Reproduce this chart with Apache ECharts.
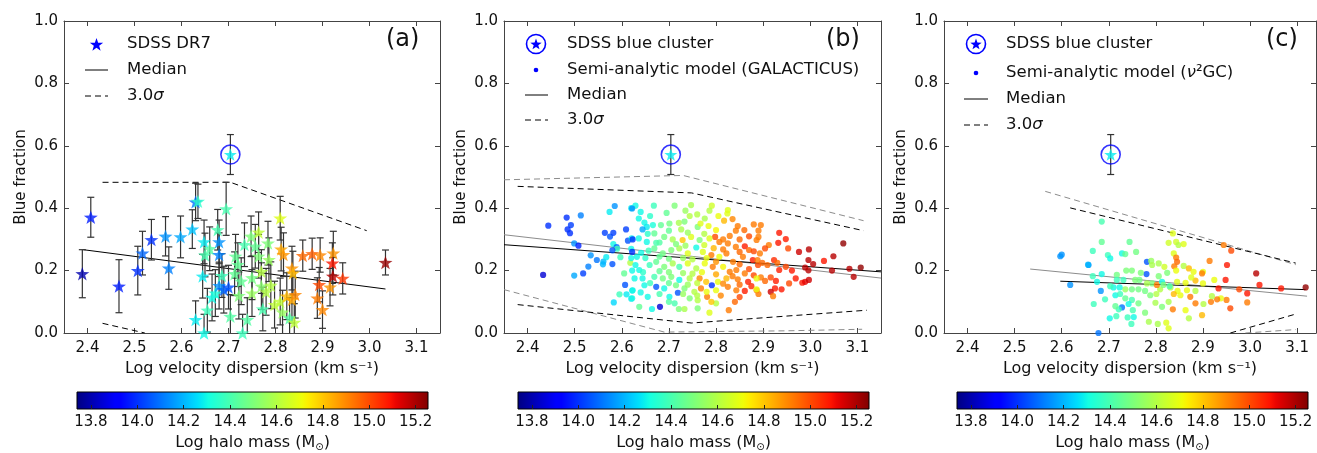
<!DOCTYPE html>
<html><head><meta charset="utf-8">
<script src="https://cdn.jsdelivr.net/npm/echarts@6/dist/echarts.min.js"></script>
<style>html,body{margin:0;padding:0;background:#fff}#c{width:1317px;height:453px}</style>
</head><body><div id="c"></div>
<script>
// ---------------- DATA ----------------
const xTicks = [2.4, 2.5, 2.6, 2.7, 2.8, 2.9, 3.0, 3.1];
const yTicks = [0.0, 0.2, 0.4, 0.6, 0.8, 1.0];
const massTicks = [13.8, 14.0, 14.2, 14.4, 14.6, 14.8, 15.0, 15.2];
const massRange = [13.74, 15.253];

// Panel (a): SDSS DR7 clusters
const sdssV = [2.389,2.407,2.467,2.507,2.517,2.536,2.566,2.573,2.598,2.623,
  2.630,2.635,2.630,2.645,2.648,2.648,2.650,2.655,2.660,2.665,
  2.672,2.677,2.680,2.680,2.680,2.686,2.690,2.695,2.700,2.704,
  2.715,2.713,2.720,2.722,2.727,2.730,2.734,2.740,2.748,2.750,
  2.750,2.757,2.764,2.764,2.770,2.770,2.773,2.780,2.784,2.786,
  2.790,2.798,2.810,2.812,2.817,2.810,2.815,2.824,2.830,2.835,
  2.837,2.835,2.840,2.842,2.858,2.878,2.895,2.893,2.889,2.900,
  2.916,2.923,2.921,2.922,2.943,3.034];
const sdssFrac = [0.190,0.371,0.150,0.200,0.256,0.299,0.310,0.208,0.308,0.333,
  0.420,0.422,0.043,0.182,0.292,0.000,0.250,0.073,0.270,0.114,
  0.128,0.331,0.292,0.251,0.152,0.184,0.139,0.398,0.147,0.053,
  0.246,0.190,0.219,0.120,0.166,0.000,0.283,0.043,0.310,0.177,
  0.128,0.278,0.323,0.246,0.150,0.197,0.077,0.132,0.288,0.235,
  0.153,0.091,0.368,0.269,0.251,0.101,0.067,0.118,0.048,0.208,
  0.192,0.107,0.034,0.123,0.248,0.254,0.250,0.155,0.112,0.075,
  0.147,0.256,0.224,0.182,0.175,0.226];
const sdssErr = [0.077,0.064,0.085,0.078,0.070,0.065,0.063,0.068,0.067,0.062,
  0.060,0.055,0.060,0.070,0.070,0.060,0.070,0.070,0.070,0.075,
  0.075,0.065,0.070,0.070,0.075,0.070,0.075,0.085,0.070,0.070,
  0.070,0.070,0.070,0.075,0.075,0.060,0.070,0.070,0.065,0.070,
  0.075,0.070,0.065,0.070,0.075,0.070,0.070,0.075,0.070,0.070,
  0.075,0.075,0.070,0.070,0.070,0.075,0.070,0.075,0.065,0.070,
  0.070,0.075,0.060,0.075,0.050,0.050,0.055,0.055,0.065,0.060,
  0.060,0.070,0.065,0.060,0.050,0.040];
const sdssMass = [13.80,13.97,13.97,14.00,14.08,14.00,14.15,14.12,14.18,14.22,
  14.10,14.35,14.28,14.28,14.28,14.30,14.40,14.38,14.42,14.30,
  14.32,14.40,14.15,14.12,14.15,14.38,14.08,14.40,14.05,14.42,
  14.45,14.45,14.45,14.50,14.45,14.38,14.40,14.42,14.50,14.48,
  14.55,14.45,14.62,14.50,14.52,14.60,14.40,14.60,14.50,14.55,
  14.60,14.62,14.68,14.85,14.88,14.62,14.55,14.82,14.42,14.88,
  14.82,14.85,14.62,14.90,14.95,14.97,14.90,15.00,14.92,14.90,
  14.88,14.88,15.08,15.18,15.03,15.22];

// SDSS blue cluster [logV, fraction, error, mass]
const blueCluster = [2.704, 0.572, 0.064, 14.28];

// Panel (a) lines
const aMedian = [[2.391,0.267],[3.034,0.141]];
const aSigmaUpper = [[2.432,0.483],[2.704,0.483],[2.994,0.328]];
const aSigmaLower = [[2.432,0.031],[2.522,0.0]];

// Panel (b): GALACTICUS [logV, fraction, mass]
const galacticusPoints = [
 [2.444,0.344,14.0],[2.433,0.186,13.85],[2.483,0.370,14.0],[2.492,0.346,14.02],[2.485,0.332,14.0],[2.490,0.320,14.0],[2.513,0.377,14.12],[2.499,0.287,14.15],[2.508,0.280,13.98],[2.499,0.184,14.18],
 [2.518,0.191,14.02],[2.529,0.213,14.12],[2.534,0.249,14.15],[2.547,0.234,14.10],[2.561,0.229,14.20],[2.560,0.220,14.20],[2.564,0.321,14.02],[2.575,0.309,14.05],[2.582,0.321,14.02],[2.585,0.407,14.15],
 [2.574,0.388,14.28],[2.567,0.243,14.28],[2.580,0.221,14.05],[2.582,0.285,14.30],[2.589,0.275,14.08],[2.590,0.270,14.38],[2.597,0.243,14.38],[2.580,0.265,14.05],[2.609,0.332,14.02],[2.613,0.296,14.05],
 [2.621,0.303,14.28],[2.620,0.400,14.28],[2.618,0.225,14.60],[2.605,0.191,14.45],[2.622,0.200,14.30],[2.620,0.240,14.30],[2.607,0.154,14.05],[2.595,0.124,14.38],[2.610,0.124,14.28],[2.620,0.110,14.28],
 [2.583,0.098,14.25],[2.622,0.136,14.28],[2.620,0.270,14.30],
 [2.629,0.408,14.30],[2.622,0.399,14.15],[2.668,0.408,14.38],[2.712,0.408,14.50],[2.747,0.410,14.58],[2.791,0.408,14.65],[2.825,0.394,14.68],[2.824,0.383,14.68],[2.786,0.392,14.60],
 [2.776,0.367,14.58],[2.636,0.367,14.30],[2.648,0.354,14.30],[2.653,0.340,14.28],[2.644,0.332,14.18],[2.666,0.346,14.32],[2.683,0.346,14.45],[2.701,0.351,14.48],[2.721,0.353,14.58],[2.733,0.357,14.50],
 [2.744,0.375,14.60],[2.726,0.332,14.58],[2.761,0.340,14.50],[2.767,0.351,14.68],[2.784,0.343,14.70],[2.817,0.360,14.82],[2.846,0.343,14.92],[2.842,0.328,14.92],[2.880,0.348,14.92],[2.798,0.308,15.00],
 [2.829,0.311,14.92],[2.623,0.300,14.00],[2.636,0.303,14.30],[2.653,0.292,14.30],[2.669,0.319,14.45],[2.673,0.289,14.40],[2.690,0.308,14.48],[2.708,0.300,14.58],[2.729,0.298,14.80],[2.747,0.308,14.68],
 [2.765,0.298,14.50],[2.786,0.303,14.68],[2.807,0.292,14.92],[2.825,0.287,14.92],[2.842,0.276,14.92],[2.861,0.278,15.07],[2.870,0.266,14.95],[2.886,0.298,14.92],[2.622,0.260,14.00],[2.632,0.244,14.30],
 [2.641,0.257,14.30],[2.657,0.264,14.38],[2.669,0.271,14.45],[2.687,0.255,14.48],[2.705,0.266,14.50],[2.722,0.271,14.58],[2.740,0.255,14.68],[2.758,0.274,14.30],[2.772,0.260,14.68],[2.790,0.250,14.92],
 [2.807,0.244,14.70],[2.822,0.255,14.92],[2.836,0.228,14.92],[2.857,0.244,14.92],[2.878,0.234,15.07],[2.889,0.218,15.00],[2.629,0.218,14.30],[2.637,0.202,14.30],[2.659,0.218,14.38],[2.673,0.228,14.45],
 [2.690,0.212,14.50],[2.708,0.223,14.58],[2.722,0.212,14.40],[2.740,0.223,14.68],[2.758,0.207,14.60],[2.776,0.223,14.70],[2.793,0.212,14.92],[2.815,0.212,14.72],[2.829,0.196,14.92],[2.843,0.202,14.92],
 [2.861,0.191,14.92],[2.627,0.175,14.30],[2.644,0.175,14.30],[2.669,0.180,14.40],[2.687,0.175,14.48],[2.705,0.180,14.50],[2.722,0.170,14.30],[2.744,0.175,14.60],[2.765,0.175,14.90],[2.779,0.164,14.80],
 [2.804,0.164,14.70],[2.822,0.175,14.82],[2.846,0.172,14.92],[2.868,0.164,15.07],[2.623,0.137,14.30],[2.648,0.153,14.30],[2.673,0.148,14.05],[2.690,0.143,14.30],[2.715,0.153,14.48],[2.719,0.129,14.05],
 [2.733,0.143,14.50],[2.754,0.132,14.60],[2.768,0.143,14.92],[2.791,0.153,14.00],[2.800,0.137,14.70],[2.825,0.148,14.92],[2.843,0.137,14.92],[2.861,0.135,15.07],[2.886,0.137,14.92],[2.622,0.111,14.30],
 [2.655,0.116,14.30],[2.681,0.084,13.85],[2.701,0.116,14.30],[2.712,0.095,14.40],[2.744,0.111,14.50],[2.761,0.105,14.60],[2.781,0.116,14.92],[2.800,0.095,14.60],[2.637,0.084,14.45],[2.664,0.077,14.30],
 [2.721,0.077,14.50],[2.733,0.077,14.58],[2.761,0.079,14.50],[2.786,0.065,14.68],[2.827,0.073,14.92],
 [2.640,0.388,14.30],[2.660,0.375,14.35],[2.695,0.385,14.45],[2.735,0.392,14.55],[2.760,0.380,14.60],[2.805,0.375,14.70],[2.835,0.365,14.90],[2.860,0.330,14.95],[2.655,0.318,14.35],[2.700,0.328,14.45],
 [2.740,0.322,14.55],[2.775,0.318,14.60],[2.800,0.330,14.72],[2.815,0.300,14.92],[2.850,0.300,14.95],[2.870,0.310,15.00],[2.680,0.290,14.42],[2.715,0.285,14.50],[2.735,0.280,14.55],[2.775,0.282,14.65],
 [2.795,0.272,14.82],[2.815,0.268,14.92],[2.850,0.260,14.95],[2.880,0.262,15.00],[2.650,0.240,14.35],[2.680,0.245,14.45],[2.700,0.238,14.48],[2.730,0.240,14.55],[2.750,0.236,14.60],[2.780,0.240,14.70],
 [2.800,0.228,14.88],[2.850,0.220,14.95],[2.870,0.205,15.00],[2.645,0.195,14.35],[2.680,0.198,14.45],[2.700,0.195,14.50],[2.730,0.192,14.55],[2.750,0.190,14.60],[2.770,0.195,14.70],[2.800,0.188,14.85],
 [2.835,0.182,14.92],[2.880,0.185,15.00],[2.660,0.160,14.38],[2.700,0.160,14.45],[2.740,0.155,14.55],[2.760,0.160,14.62],[2.815,0.158,14.90],[2.850,0.155,14.95],[2.875,0.150,15.05],[2.640,0.130,14.30],
 [2.680,0.125,14.40],[2.730,0.125,14.55],[2.780,0.132,14.70],[2.810,0.120,14.90],[2.850,0.115,15.00],[2.700,0.100,14.42],[2.760,0.120,14.60],[2.790,0.100,14.80],[2.840,0.100,14.95],
 [2.895,0.346,14.92],[2.890,0.328,14.92],[2.890,0.308,14.92],[2.912,0.282,14.92],[2.893,0.255,14.92],[2.904,0.271,15.00],[2.888,0.234,14.92],[2.898,0.225,14.95],[2.909,0.218,14.95],[2.923,0.234,15.05],
 [2.934,0.321,15.08],[2.932,0.289,15.08],[2.948,0.301,15.07],[2.953,0.271,15.00],[2.930,0.225,14.95],[2.934,0.202,15.07],[2.948,0.212,15.00],[2.961,0.200,15.08],[2.976,0.260,15.15],[2.997,0.268,15.18],
 [2.996,0.234,15.18],[3.006,0.221,15.18],[2.989,0.210,15.18],[2.996,0.201,15.18],[3.029,0.231,15.08],[3.049,0.246,15.18],[3.046,0.200,15.18],[3.070,0.287,15.23],[3.083,0.206,15.18],[3.092,0.180,15.18],
 [3.107,0.210,15.23],[2.916,0.178,15.00],[2.895,0.178,14.92],[2.904,0.167,14.95],[2.927,0.167,15.07],[2.925,0.143,15.08],[2.939,0.140,15.08],[2.955,0.159,15.00],[2.969,0.175,15.08],[2.983,0.161,15.08],
 [2.989,0.164,15.12],[2.997,0.170,15.15],[2.916,0.132,15.15],[2.921,0.118,14.92],[2.890,0.125,14.92],[2.886,0.175,14.70],[2.886,0.140,14.70]
];
// Panel (b) lines
const bMedianGray = [[2.35,0.315],[3.15,0.176]];
const bMedian = [[2.35,0.283],[3.15,0.196]];
const bSigmaUpperGray = [[2.35,0.491],[2.73,0.505],[3.113,0.360]];
const bSigmaUpper = [[2.379,0.470],[2.748,0.449],[3.113,0.328]];
const bSigmaLower = [[2.379,0.091],[2.748,0.032],[3.120,0.073]];
const bSigmaLowerGray = [[2.35,0.139],[2.69,0.003],[2.95,0.007],[3.11,0.012]];

// Panel (c): nu2GC [logV, fraction, mass]
const nu2gcPoints = [
 [2.685,0.357,14.40],[2.685,0.292,14.45],[2.666,0.263,14.38],[2.698,0.250,14.38],[2.703,0.239,14.30],[2.728,0.255,14.30],[2.735,0.253,14.45],[2.744,0.292,14.45],[2.758,0.260,14.48],[2.657,0.218,14.15],
 [2.618,0.154,14.15],[2.666,0.182,14.38],[2.685,0.189,14.30],[2.675,0.164,14.30],[2.717,0.186,14.48],[2.737,0.200,14.50],[2.749,0.200,14.50],[2.781,0.228,14.05],[2.780,0.189,14.05],[2.790,0.231,14.55],
 [2.792,0.218,14.58],[2.806,0.223,14.58],[2.818,0.212,14.65],[2.824,0.193,14.50],[2.806,0.182,14.50],[2.836,0.319,14.68],[2.827,0.289,14.65],[2.843,0.292,14.65],[2.848,0.282,14.60],[2.859,0.285,14.68],
 [2.838,0.255,14.68],[2.843,0.242,14.92],[2.845,0.228,14.95],[2.839,0.214,14.92],[2.843,0.200,14.70],[2.859,0.215,14.60],[2.870,0.207,14.82],[2.880,0.196,14.70],[2.900,0.196,14.70],[2.898,0.191,14.92],
 [2.914,0.231,14.92],[2.944,0.282,14.92],[2.960,0.264,15.00],[2.951,0.218,15.08],[3.013,0.191,15.18],[3.020,0.154,15.08],[3.066,0.143,15.08],[3.118,0.146,15.23],[2.994,0.127,15.08],[2.977,0.140,15.00],
 [2.994,0.098,14.92],[2.958,0.079,15.00],[2.950,0.106,14.92],[2.933,0.143,15.08],[2.948,0.170,15.08],[2.938,0.111,14.70],[2.930,0.108,14.92],[2.917,0.100,14.92],[2.919,0.118,14.60],[2.901,0.093,14.60],
 [2.898,0.057,14.82],[2.924,0.170,14.70],[2.900,0.159,14.70],[2.884,0.168,14.82],[2.884,0.135,14.60],[2.884,0.095,14.92],[2.873,0.116,14.92],[2.866,0.137,14.70],[2.875,0.178,14.68],[2.863,0.161,14.70],
 [2.845,0.164,14.68],[2.846,0.135,14.70],[2.852,0.121,14.70],[2.838,0.125,14.82],[2.831,0.146,14.60],[2.827,0.100,14.58],[2.836,0.076,14.92],[2.863,0.073,14.70],[2.870,0.047,14.60],[2.822,0.033,14.68],
 [2.804,0.029,14.58],[2.827,0.015,14.68],[2.785,0.036,14.58],[2.777,0.065,14.50],[2.799,0.097,14.58],[2.813,0.084,14.50],[2.801,0.125,14.60],[2.809,0.140,14.60],[2.788,0.121,14.50],[2.777,0.135,14.48],
 [2.763,0.140,14.48],[2.749,0.140,14.48],[2.735,0.140,14.55],[2.723,0.146,14.30],[2.710,0.146,14.30],[2.703,0.150,14.38],[2.714,0.121,14.30],[2.724,0.125,14.38],[2.735,0.111,14.45],[2.749,0.106,14.40],
 [2.763,0.095,14.48],[2.742,0.093,14.30],[2.728,0.082,14.10],[2.721,0.076,14.38],[2.714,0.086,14.45],[2.751,0.073,14.40],[2.716,0.054,14.38],[2.740,0.050,14.38],[2.753,0.051,14.30],[2.748,0.029,14.38],
 [2.702,0.047,14.30],[2.692,0.108,14.38],[2.668,0.093,14.38],[2.678,0.000,14.10],[2.683,0.135,14.15],[2.717,0.170,14.38],[2.731,0.170,14.38],[2.765,0.170,14.48],[2.792,0.159,14.50],[2.802,0.154,14.92],
 [2.813,0.164,14.30],[2.829,0.150,14.40],[2.781,0.159,14.58],[2.816,0.154,14.50],[2.768,0.193,14.50],[2.756,0.170,14.50],[2.597,0.246,14.15],[2.600,0.251,14.15],[2.656,0.219,14.20]
];
// Panel (c) lines
const cMedianGray = [[2.533,0.205],[3.121,0.118]];
const cMedian = [[2.597,0.166],[3.118,0.139]];
const cSigmaUpperGray = [[2.565,0.454],[3.097,0.219]];
const cSigmaUpper = [[2.618,0.401],[3.097,0.224]];
const cSigmaLower = [[2.958,0.0],[3.093,0.059]];
const cSigmaLowerGray = [[2.99,0.0],[3.097,0.011]];

// ---------------- STYLE / LAYOUT ----------------
const FONT = 'DejaVu Sans';
const FRAME = '#444';
const GRAY = '#8c8c8c';
const STAR = 'path://M0,-10L2.351,-3.236L9.511,-3.09L3.804,1.236L5.878,8.09L0,4L-5.878,8.09L-3.804,1.236L-9.511,-3.09L-2.351,-3.236Z';

function jet(t){
  const seg = (pts) => { for (let i=0;i<pts.length-1;i++){ const [x0,y0]=pts[i],[x1,y1]=pts[i+1]; if(t<=x1) return y0+(y1-y0)*(t-x0)/(x1-x0);} return pts[pts.length-1][1]; };
  const r=seg([[0,0],[0.35,0],[0.66,1],[0.89,1],[1,0.5]]);
  const g=seg([[0,0],[0.125,0],[0.375,1],[0.64,1],[0.91,0],[1,0]]);
  const b=seg([[0,0.5],[0.11,1],[0.34,1],[0.65,0],[1,0]]);
  return 'rgb('+Math.round(r*255)+','+Math.round(g*255)+','+Math.round(b*255)+')';
}
const jetColors = Array.from({length:65},(_,i)=>jet(i/64));
const jetStops = jetColors.map((c,i)=>({offset:i/64,color:c}));

const panels = [
  {left:64, width:376, xmax:3.15, cbLeft:77},
  {left:504, width:377, xmax:3.15, cbLeft:518},
  {left:944, width:372, xmax:3.14, cbLeft:957}
];

const grid = [], xAxis = [], yAxis = [], series = [], graphic = [];
panels.forEach(p => grid.push({left:p.left, top:21, width:p.width, height:312}));
panels.forEach(p => grid.push({left:p.cbLeft, top:392, width:351, height:17}));

const tickStyle = {show:true, inside:true, length:5, lineStyle:{color:FRAME, width:1}};
panels.forEach((p,i) => xAxis.push({
  gridIndex:i, type:'value', min:2.35, max:p.xmax, position:'bottom',
  axisLine:{show:true, onZero:false, lineStyle:{color:FRAME, width:1}},
  axisTick:Object.assign({customValues:xTicks}, tickStyle),
  axisLabel:{customValues:xTicks, formatter:v=>v.toFixed(1), fontSize:15, color:'#111', fontFamily:FONT, margin:8},
  splitLine:{show:false},
  name:'Log velocity dispersion (km s\u207B\u00B9)', nameLocation:'middle', nameGap:27,
  nameTextStyle:{fontSize:16, color:'#111', fontFamily:FONT}
}));
panels.forEach((p,i) => xAxis.push({
  gridIndex:i, type:'value', min:2.35, max:p.xmax, position:'top',
  axisLine:{show:true, onZero:false, lineStyle:{color:FRAME, width:1}},
  axisTick:Object.assign({customValues:xTicks}, tickStyle),
  axisLabel:{show:false}, splitLine:{show:false}
}));
panels.forEach((p,i) => xAxis.push({
  gridIndex:3+i, type:'value', min:massRange[0], max:massRange[1], position:'bottom', z:10,
  axisLine:{show:false},
  axisTick:{show:true, inside:true, length:4, customValues:massTicks, lineStyle:{color:'#222', width:1}},
  axisLabel:{customValues:massTicks, formatter:v=>v.toFixed(1), fontSize:15, color:'#111', fontFamily:FONT, margin:6},
  splitLine:{show:false},
  name:'Log halo mass (M{s|\u2299})', nameLocation:'middle', nameGap:25,
  nameTextStyle:{fontSize:16, color:'#111', fontFamily:FONT, rich:{s:{fontSize:10, color:'#111', fontFamily:FONT, verticalAlign:'bottom', padding:[8,0,0,0]}}}
}));
panels.forEach((p,i) => yAxis.push({
  gridIndex:i, type:'value', min:0, max:1, interval:0.2, position:'left',
  axisLine:{show:true, onZero:false, lineStyle:{color:FRAME, width:1}},
  axisTick:tickStyle,
  axisLabel:{formatter:v=>v.toFixed(1), fontSize:15, color:'#111', fontFamily:FONT, margin:6},
  splitLine:{show:false},
  name:'Blue fraction', nameLocation:'middle', nameGap:35,
  nameTextStyle:{fontSize:15, color:'#111', fontFamily:FONT}
}));
panels.forEach((p,i) => yAxis.push({
  gridIndex:i, type:'value', min:0, max:1, interval:0.2, position:'right',
  axisLine:{show:true, onZero:false, lineStyle:{color:FRAME, width:1}},
  axisTick:tickStyle, axisLabel:{show:false}, splitLine:{show:false}
}));
panels.forEach((p,i) => yAxis.push({gridIndex:3+i, type:'value', min:0, max:1, show:false}));

function lineSeries(i, data, color, dashed){
  series.push({type:'line', xAxisIndex:i, yAxisIndex:i, data:data, showSymbol:false, symbol:'none', silent:true,
    lineStyle:{color:color, width:1, type: dashed ? [6,4] : 'solid'}, z:2});
}
function errorSeries(i, data){
  series.push({type:'custom', xAxisIndex:i, yAxisIndex:i, clip:true, silent:true, z:3, data:data,
    renderItem:(params, api) => {
      const x=api.value(0), y=api.value(1), e=api.value(2);
      const t=api.coord([x,y+e]), b=api.coord([x,y-e]); const cap=3.5;
      const st={stroke:'#333', lineWidth:1.2};
      return {type:'group', children:[
        {type:'line', shape:{x1:t[0],y1:t[1],x2:b[0],y2:b[1]}, style:st},
        {type:'line', shape:{x1:t[0]-cap,y1:t[1],x2:t[0]+cap,y2:t[1]}, style:st},
        {type:'line', shape:{x1:b[0]-cap,y1:b[1],x2:b[0]+cap,y2:b[1]}, style:st}
      ]};
    }});
}
const colorSeriesIdx = [];
function clusterSeries(i){
  errorSeries(i, [[blueCluster[0], blueCluster[1], blueCluster[2]]]);
  colorSeriesIdx.push(series.length);
  series.push({type:'scatter', xAxisIndex:i, yAxisIndex:i, symbol:STAR, symbolKeepAspect:true, symbolSize:13, z:6, silent:true,
    data:[[blueCluster[0], blueCluster[1], blueCluster[3]]]});
  series.push({type:'scatter', xAxisIndex:i, yAxisIndex:i, symbol:'circle', symbolSize:19, z:7, silent:true,
    itemStyle:{color:'rgba(0,0,0,0)', borderColor:'#0000ff', borderWidth:1.6},
    data:[[blueCluster[0], blueCluster[1]]]});
}

// Panel (a)
lineSeries(0, aMedian, '#000', false);
lineSeries(0, aSigmaUpper, '#000', true);
lineSeries(0, aSigmaLower, '#000', true);
errorSeries(0, sdssV.map((v,k)=>[v, sdssFrac[k], sdssErr[k]]));
colorSeriesIdx.push(series.length);
series.push({type:'scatter', xAxisIndex:0, yAxisIndex:0, symbol:STAR, symbolKeepAspect:true, symbolSize:14, z:4, silent:true,
  data: sdssV.map((v,k)=>[v, sdssFrac[k], sdssMass[k]])});
clusterSeries(0);

// Panel (b)
lineSeries(1, bMedianGray, GRAY, false);
lineSeries(1, bSigmaUpperGray, GRAY, true);
lineSeries(1, bSigmaLowerGray, GRAY, true);
colorSeriesIdx.push(series.length);
series.push({type:'scatter', xAxisIndex:1, yAxisIndex:1, symbol:'circle', symbolSize:6.2, z:3, silent:true, data:galacticusPoints});
lineSeries(1, bMedian, '#000', false);
lineSeries(1, bSigmaUpper, '#000', true);
lineSeries(1, bSigmaLower, '#000', true);
clusterSeries(1);

// Panel (c)
lineSeries(2, cMedianGray, GRAY, false);
lineSeries(2, cSigmaUpperGray, GRAY, true);
lineSeries(2, cSigmaLowerGray, GRAY, true);
colorSeriesIdx.push(series.length);
series.push({type:'scatter', xAxisIndex:2, yAxisIndex:2, symbol:'circle', symbolSize:6.2, z:3, silent:true, data:nu2gcPoints});
lineSeries(2, cMedian, '#000', false);
lineSeries(2, cSigmaUpper, '#000', true);
lineSeries(2, cSigmaLower, '#000', true);
clusterSeries(2);

// colorbars
panels.forEach((p,i) => series.push({type:'custom', xAxisIndex:6+i, yAxisIndex:6+i, silent:true, z:2,
  data:[[massRange[0], 0, massRange[1], 1]],
  renderItem:(params, api) => {
    const a=api.coord([api.value(0), api.value(1)]), b=api.coord([api.value(2), api.value(3)]);
    return {type:'rect', shape:{x:a[0], y:b[1], width:b[0]-a[0], height:a[1]-b[1]},
      style:{fill:{type:'linear', x:0, y:0, x2:1, y2:0, colorStops:jetStops}, stroke:'#000', lineWidth:1}};
  }}));

// legends (graphic)
function gText(x, y, text, size, rich){
  graphic.push({type:'text', x:x, y:y, silent:true, z:20,
    style:{text:text, fontSize:size, fontFamily:FONT, fill:'#111', align:'left', verticalAlign:'middle', rich:rich||{}}});
}
const sigRich = {i:{fontStyle:'italic', fontSize:16.5, fontFamily:FONT, fill:'#111'}};
function gLine(x1, x2, y, dashed){
  const st = {stroke:'#000', lineWidth:1};
  if (dashed) st.lineDash = [6,4];
  graphic.push({type:'line', silent:true, z:20, shape:{x1:x1,y1:y,x2:x2,y2:y}, style:st});
}
function gStar(cx, cy, s, color){
  const pts = [];
  for (let k=0;k<10;k++){
    const ang = -Math.PI/2 + k*Math.PI/5, rad = (k%2===0) ? s/2 : s/2*0.4;
    pts.push([cx + rad*Math.cos(ang), cy + rad*Math.sin(ang)]);
  }
  graphic.push({type:'polygon', silent:true, z:21, shape:{points:pts}, style:{fill:color}});
}
function gRing(cx, cy){
  graphic.push({type:'circle', silent:true, z:20, shape:{cx:cx, cy:cy, r:9.5}, style:{fill:'rgba(0,0,0,0)', stroke:'#0000ff', lineWidth:1.6}});
}
function gDot(cx, cy){
  graphic.push({type:'circle', silent:true, z:20, shape:{cx:cx, cy:cy, r:2.3}, style:{fill:'#0000ff'}});
}
gStar(96.5, 45, 14, '#0000ff'); gText(127, 44, 'SDSS DR7', 16.5);
gLine(85, 108, 70, false); gText(127, 70, 'Median', 16.5);
gLine(85, 108, 96, true); gText(127, 96, '3.0{i|\u03C3}', 16.5, sigRich);
gText(386, 40, '(a)', 24);
gRing(536, 44); gStar(536, 44.5, 12, '#0000ff'); gText(567, 44, 'SDSS blue cluster', 16.5);
gDot(536, 70); gText(567, 70, 'Semi-analytic model (GALACTICUS)', 16.5);
gLine(525, 548, 95, false); gText(567, 95, 'Median', 16.5);
gLine(525, 548, 120, true); gText(567, 120, '3.0{i|\u03C3}', 16.5, sigRich);
gText(826, 40, '(b)', 24);
gRing(976, 44); gStar(976, 44.5, 12, '#0000ff'); gText(1006, 44, 'SDSS blue cluster', 16.5);
gDot(976, 73); gText(1006, 73, 'Semi-analytic model ({i|\u03BD}\u00B2GC)', 16.5, sigRich);
gLine(964, 988, 99, false); gText(1006, 99, 'Median', 16.5);
gLine(964, 988, 125, true); gText(1006, 125, '3.0{i|\u03C3}', 16.5, sigRich);
gText(1266, 40, '(c)', 24);

const option = {
  backgroundColor:'#fff', animation:false,
  textStyle:{fontFamily:FONT},
  grid: grid, xAxis: xAxis, yAxis: yAxis, series: series, graphic: graphic,
  visualMap:{type:'continuous', show:false, dimension:2, min:massRange[0], max:massRange[1],
    seriesIndex: colorSeriesIdx, inRange:{color: jetColors}}
};
const chart = echarts.init(document.getElementById('c'), null, {renderer:'canvas'});
chart.setOption(option);
</script></body></html>
